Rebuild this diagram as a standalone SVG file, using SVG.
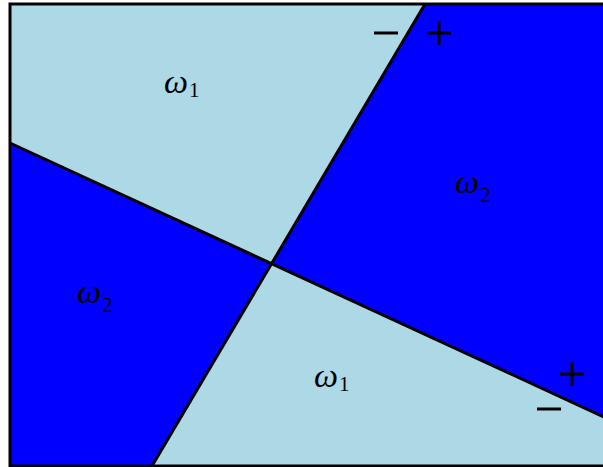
<svg xmlns="http://www.w3.org/2000/svg" width="603" height="467" viewBox="0 0 603 467">
<style>
.light{fill:#ADD8E6}
.dark{fill:#0000FF}
.bnd{stroke:#000;stroke-width:3;fill:none}
.lbl{font-family:"Liberation Serif",serif;font-style:italic;font-size:34px;fill:#000}
.sub{font-family:"Liberation Serif",serif;font-size:21px;fill:#000}
.sign{stroke:#000;stroke-width:3}
</style>
<rect width="603" height="467" fill="#fff"/>
<g id="regions">
<polygon id="r1" class="light" points="10,4 425,4 271,263 10,143"/>
<polygon id="r2" class="dark" points="425,4 604,4 604,417 271,263"/>
<polygon id="r3" class="dark" points="10,143 271,263 152,466 10,466"/>
<polygon id="r4" class="light" points="271,263 604,417 604,466 152,466"/>
</g>
<g id="boundaries">
<line class="bnd" x1="10" y1="143" x2="604" y2="417"/>
<line class="bnd" x1="425" y1="4" x2="152" y2="466"/>
<rect class="bnd" x="10" y="4" width="600" height="462"/>
</g>
<g id="labels">
<text x="164" y="93"><tspan class="lbl">ω</tspan><tspan class="sub" dx="1" dy="4">1</tspan></text>
<text x="455" y="193"><tspan class="lbl">ω</tspan><tspan class="sub" dx="1" dy="9">2</tspan></text>
<text x="77" y="303"><tspan class="lbl">ω</tspan><tspan class="sub" dx="1" dy="9">2</tspan></text>
<text x="314" y="387"><tspan class="lbl">ω</tspan><tspan class="sub" dx="1" dy="4">1</tspan></text>
</g>
<g id="signs">
<line class="sign" x1="374" y1="33" x2="398" y2="33"/>
<line class="sign" x1="427" y1="33" x2="451" y2="33"/>
<line class="sign" x1="439" y1="21" x2="439" y2="45"/>
<line class="sign" x1="560" y1="374" x2="584" y2="374"/>
<line class="sign" x1="572" y1="362" x2="572" y2="386"/>
<line class="sign" x1="537" y1="409" x2="561" y2="409"/>
</g>
</svg>
